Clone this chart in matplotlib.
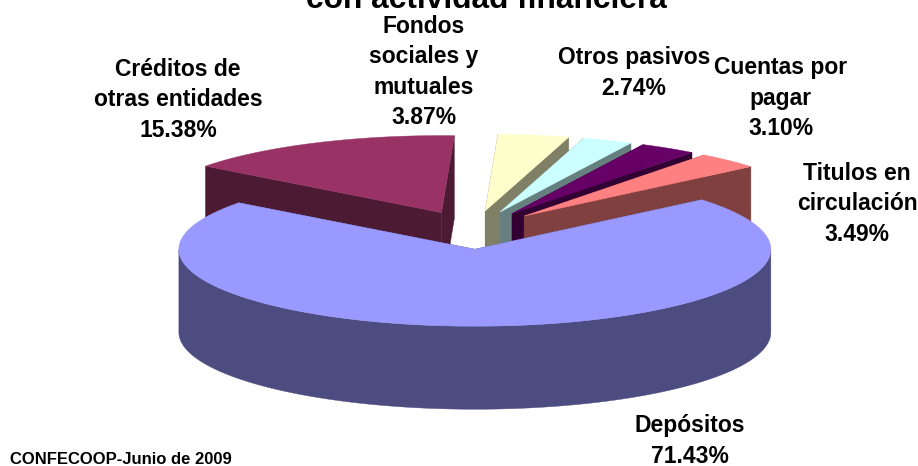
import numpy as np
import matplotlib
matplotlib.use("Agg")
import matplotlib.pyplot as plt
from matplotlib.patches import Polygon

# Data (counter-clockwise, starting from the right edge of "Depósitos")
categories = ["Titulos en\ncirculación", "Cuentas por\npagar", "Otros pasivos",
              "Fondos\nsociales y\nmutuales", "Créditos de\notras entidades", "Depósitos"]
values = [3.49, 3.10, 2.74, 3.87, 15.38, 71.43]
title_text = "con actividad financiera"
footer_text = "CONFECOOP-Junio de 2009"

# Style
top_colors = ["#FF8080", "#660066", "#CCFFFF", "#FFFFCC", "#993366", "#9999FF"]
side_colors = ["#804040", "#330033", "#668080", "#808066", "#4C1A33", "#4C4C80"]
label_centers = [(857, 204), (781, 98), (634, 73), (424, 72), (178, 100), (690, 441)]
draw_order = [4, 3, 2, 1, 0, 5]
W, H = 918, 466
CX, CY = 473, 230          # centre of the projected pie
RX, RY = 296, 77           # projected radii
DEPTH = 83                 # thickness
EXPLODE = 0.25             # radial explosion
START = 40.0               # angle of the first slice edge, degrees

plt.rcParams["font.family"] = ["Liberation Sans", "DejaVu Sans"]
fig = plt.figure(figsize=(W / 100, H / 100), dpi=100)
ax = fig.add_axes([0, 0, 1, 1])
ax.set_xlim(0, W)
ax.set_ylim(H, 0)
ax.axis("off")

fractions = np.array(values) / sum(values) * 360
edges = START + np.concatenate([[0], np.cumsum(fractions)])


def rim(x0, y0, t):
    t = np.radians(t)
    return x0 + RX * np.cos(t), y0 - RY * np.sin(t)


for i in draw_order:
    a0, a1 = edges[i], edges[i + 1]
    mid = np.radians((a0 + a1) / 2)
    x0 = CX + EXPLODE * RX * np.cos(mid)
    y0 = CY - EXPLODE * RY * np.sin(mid)
    ts = np.linspace(a0, a1, 300)
    xs, ys = rim(x0, y0, ts)
    # cut faces
    for a in (a0, a1):
        xr, yr = rim(x0, y0, a)
        ax.add_patch(Polygon([(x0, y0), (xr, yr), (xr, yr + DEPTH), (x0, y0 + DEPTH)],
                             closed=True, fc=side_colors[i], ec=side_colors[i], lw=0.3))
    # outer wall, front-facing part only
    wall = ts[np.sin(np.radians(ts)) <= 0]
    if wall.size:
        wx, wy = rim(x0, y0, wall)
        ax.add_patch(Polygon(np.column_stack([np.r_[wx, wx[::-1]], np.r_[wy, wy[::-1] + DEPTH]]),
                             closed=True, fc=side_colors[i], ec=side_colors[i], lw=0.3))
    # top face
    ax.add_patch(Polygon(np.column_stack([np.r_[x0, xs], np.r_[y0, ys]]),
                         closed=True, fc=top_colors[i], ec=top_colors[i], lw=0.3))

for name, val, (lx, ly) in zip(categories, values, label_centers):
    ax.text(lx, ly, f"{name}\n{val:.2f}%", ha="center", va="center", fontsize=16.5,
            fontweight="bold", linespacing=1.41, color="black")

ax.text(486, 8, title_text, ha="center", va="baseline", fontsize=22.8,
        fontweight="bold", color="black", clip_on=False)
ax.text(10, 459, footer_text, ha="left", va="center", fontsize=12,
        fontweight="bold", color="black")

fig.savefig("out.png", dpi=100, facecolor="white")
